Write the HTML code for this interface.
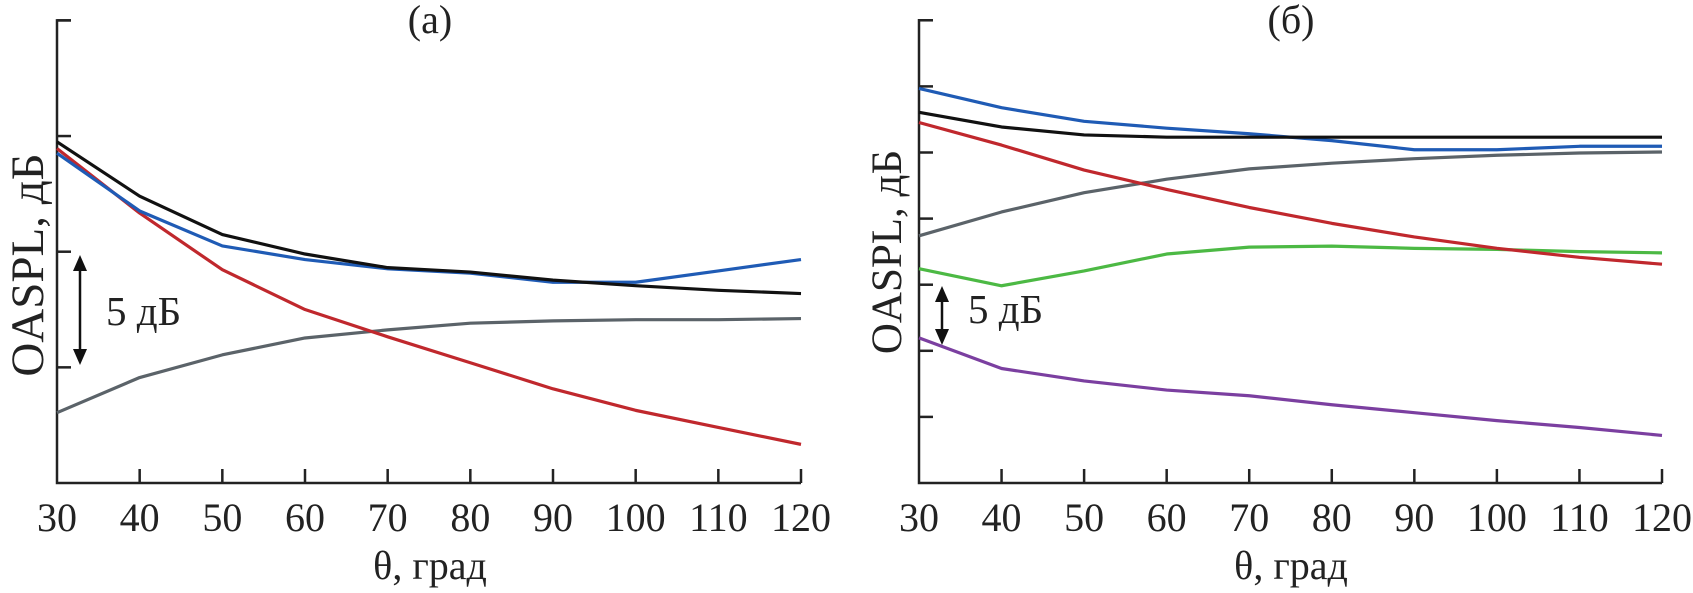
<!DOCTYPE html>
<html><head><meta charset="utf-8"><style>
html,body{margin:0;padding:0;background:#fff;}
svg{display:block;font-family:"Liberation Serif",serif;}
</style></head><body>
<svg id="chart" width="1693" height="593" viewBox="0 0 1693 593"></svg>
<script>
const xCats = [30,40,50,60,70,80,90,100,110,120];
const xTickLabels = ["30","40","50","60","70","80","90","100","110","120"];
// panel (a) values, dB (relative)
const aBlack = [14.75,12.40,10.74,9.90,9.31,9.12,8.77,8.53,8.33,8.19];
const aBlue  = [14.26,11.76,10.25,9.66,9.26,9.07,8.68,8.68,9.17,9.66];
const aRed   = [14.46,11.67,9.22,7.50,6.32,5.20,4.07,3.14,2.40,1.67];
const aGray  = [3.04,4.56,5.54,6.27,6.62,6.91,7.01,7.06,7.06,7.11];
const aYTicks = [5,10,15,20];
// panel (б) values, dB (relative)
const bBlue   = [29.85,28.39,27.36,26.84,26.42,25.90,25.21,25.21,25.47,25.47];
const bBlack  = [28.04,26.93,26.33,26.16,26.16,26.16,26.16,26.16,26.16,26.16];
const bRed    = [27.27,25.56,23.67,22.21,20.84,19.64,18.61,17.75,17.07,16.55];
const bGray   = [18.70,20.50,21.96,22.98,23.76,24.19,24.53,24.79,24.96,25.04];
const bGreen  = [16.21,14.92,16.04,17.32,17.84,17.92,17.75,17.67,17.50,17.41];
const bPurple = [10.98,8.66,7.72,7.03,6.60,5.92,5.32,4.72,4.20,3.60];
const bYTicks = [5,10,15,20,25,30,35];

const NS="http://www.w3.org/2000/svg";
const svg=document.getElementById('chart');
function mk(tag,attrs,parent){const e=document.createElementNS(NS,tag);for(const k in attrs)e.setAttribute(k,attrs[k]);(parent||svg).appendChild(e);return e;}

function panel(opt){
  const g=mk('g',{});
  
  
  const x=v=>opt.x0+(v-30)/90*(opt.x1-opt.x0);
  const y=v=>opt.yb-v*opt.pxPerDb;
  const top=y(opt.yTicks[opt.yTicks.length-1]);
  const ax=mk('path',{d:`M${opt.x0+14},${top} H${opt.x0} V${opt.yb} H${opt.x1}`,fill:'none',stroke:'#222','stroke-width':2.5},g);
  
  
  opt.yTicks.forEach(t=>{
    const l=mk('line',{x1:opt.x0,x2:opt.x0+14,y1:y(t),y2:y(t),stroke:'#222','stroke-width':2.5},g);
    
    
  });
  xCats.forEach((c,i)=>{
    if(i>0){
      const l=mk('line',{x1:x(c),x2:x(c),y1:opt.yb,y2:opt.yb-14,stroke:'#222','stroke-width':2.5},g);
      
      
    }
    const t=mk('text',{x:x(c),y:531,'text-anchor':'middle','font-size':40,fill:'#222'},g);
    t.textContent=xTickLabels[i];
    
    
  });
  opt.series.forEach(s=>{
    const p=mk('polyline',{points:s.v.map((v,i)=>x(xCats[i])+','+y(v)).join(' '),fill:'none',stroke:s.c,'stroke-width':3.2,'stroke-linejoin':'round'},g);
    
    
  });
  const title=mk('text',{x:opt.tx,y:33,'text-anchor':'middle','font-size':40,fill:'#222'},g);
  title.textContent=opt.title;
  
  
  const xl=mk('text',{x:opt.tx,y:579,'text-anchor':'middle','font-size':40,fill:'#222'},g);
  xl.textContent='θ, град';
  
  
  const yl=mk('text',{x:0,y:0,'text-anchor':'middle','font-size':opt.yfs,fill:'#222',transform:`translate(${opt.ylx},${opt.yly}) rotate(-90)`},g);
  yl.textContent='OASPL, дБ';
  
  
  const a=opt.arrow;
  const ar=mk('g',{},g);
  
  
  mk('line',{x1:a.x,x2:a.x,y1:a.y1+12,y2:a.y2-12,stroke:'#111','stroke-width':2.5},ar);
  mk('polygon',{points:`${a.x},${a.y1} ${a.x-7},${a.y1+16} ${a.x+7},${a.y1+16}`,fill:'#111'},ar);
  mk('polygon',{points:`${a.x},${a.y2} ${a.x-7},${a.y2-16} ${a.x+7},${a.y2-16}`,fill:'#111'},ar);
  const st=mk('text',{x:a.tx,y:a.ty,'font-size':41,fill:'#222'},g);
  st.textContent='5 дБ';
  
  
}

panel({name:'panel-a',x0:57,x1:801,yb:483,pxPerDb:23.13,yTicks:aYTicks,title:'(a)',tx:430,
  ylx:43,yly:265,yfs:47,
  arrow:{x:80,y1:255,y2:365,tx:106,ty:325},
  series:[{n:'gray-line',c:'#5b6369',v:aGray},{n:'red-line',c:'#c0282d',v:aRed},{n:'blue-line',c:'#1f5bb5',v:aBlue},{n:'black-line',c:'#111111',v:aBlack}]});
panel({name:'panel-b',x0:919,x1:1662,yb:483,pxPerDb:13.22,yTicks:bYTicks,title:'(б)',tx:1291,
  ylx:901,yly:252,yfs:43,
  arrow:{x:942,y1:286,y2:345,tx:968,ty:323},
  series:[{n:'purple-line',c:'#7b3fa0',v:bPurple},{n:'green-line',c:'#4cb944',v:bGreen},{n:'gray-line',c:'#5b6369',v:bGray},{n:'red-line',c:'#c0282d',v:bRed},{n:'blue-line',c:'#1f5bb5',v:bBlue},{n:'black-line',c:'#111111',v:bBlack}]});
</script>
</body></html>
